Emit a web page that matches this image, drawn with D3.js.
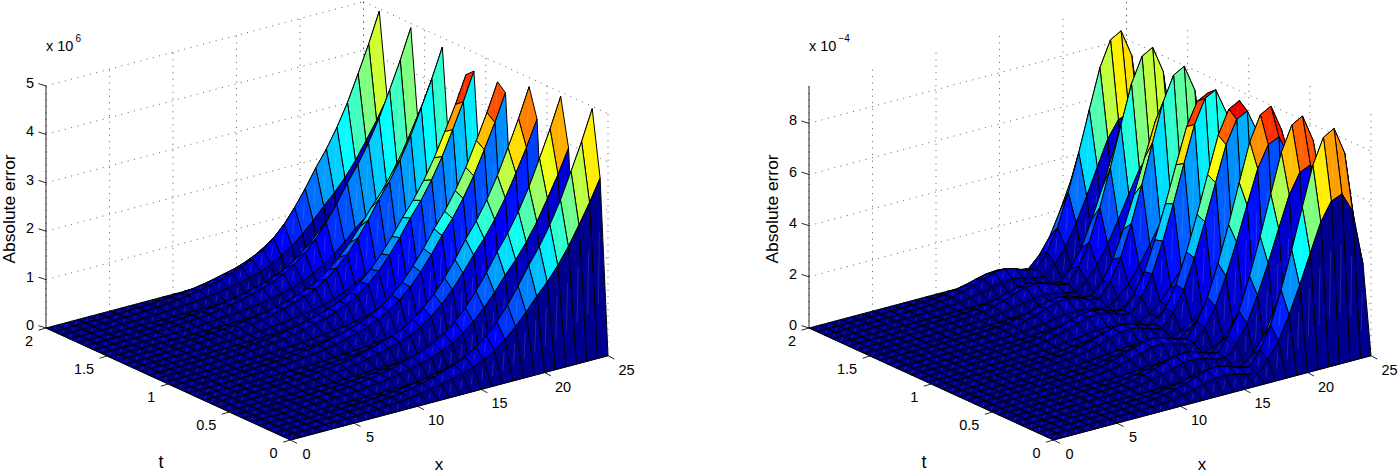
<!DOCTYPE html>
<html>
<head>
<meta charset="utf-8">
<script src="https://cdn.jsdelivr.net/npm/d3@7"></script>
<style>
html,body{margin:0;padding:0;background:#fff;}
svg{display:block;}
text{font-family:"Liberation Sans",Arial,sans-serif;fill:#000;}
</style>
</head>
<body>
<svg id="chart" width="1398" height="474"></svg>
<script>
// Tick labels
const xTicks = [0, 5, 10, 15, 20, 25];
const tTicks = [0, 0.5, 1, 1.5, 2];
const leftZTicks = [0, 1, 2, 3, 4, 5];
const rightZTicks = [0, 2, 4, 6, 8];

// Oscillation read along the ridges, one value per t grid line (t = 0 .. 2)
const tAmplitude = [0, .725, .999, .652, .10, .79, .99, .57, .20, .85, .97, .48, .30, .90, .93, .40,
  .40, .93, .90, .30, .48, .97, .85, .20, .57, .99, .79, .10, .652, .999, .725, 0];

// Height along x at a full ridge, one value per x grid line (x = 0 .. 25)
const leftEnvelope = [0, .002, .004, .006, .01, .017, .023, .031, .041, .056, .074, .099, .13, .169, .217, .279,
  .351, .424, .527, .661, .847, 1.074, 1.364, 1.694, 2.066, 2.397, 2.789, 3.244, 3.781, 4.339, 4.959];
const rightEnvelope = [0, .01, .012, .015, .02, .025, .03, .04, .05, .06, .08, .10, .16, .27, .39, .55,
  .69, .73, .63, .45, .37, .94, 1.80, 3.06, 4.51, 6.08, 7.61, 8.59, 8.83, 7.76, 4.71];

const gridX = d3.range(leftEnvelope.length).map(i => i * 25 / (leftEnvelope.length - 1));
const gridT = d3.range(tAmplitude.length).map(j => j * 2 / (tAmplitude.length - 1));

const panels = [
  {dx: 0, zMax: 5, zTicks: leftZTicks, env: leftEnvelope, exp: "6"},
  {dx: 763, zMax: 9.46, zTicks: rightZTicks, env: rightEnvelope, exp: "\u22124"}
];

// Planar projection of the box, expressed as scales
const sxX = d3.scaleLinear().domain([0, 25]).range([0, 317.5]);
const syX = d3.scaleLinear().domain([0, 25]).range([0, -84.3]);
const sxT = d3.scaleLinear().domain([0, 2]).range([0, -244.5]);
const syT = d3.scaleLinear().domain([0, 2]).range([0, -112]);
const boxHeight = 242;

const clamp01 = v => Math.max(0, Math.min(1, v));
function jet(c) {
  const u = (Math.min(63, Math.floor(c * 64)) + 1) / 64;
  const r = clamp01(Math.min(4 * u - 1.5, -4 * u + 4.5));
  const g = clamp01(Math.min(4 * u - 0.5, -4 * u + 3.5));
  const b = clamp01(Math.min(4 * u + 0.5, -4 * u + 2.5));
  return d3.rgb(r * 255, g * 255, b * 255).formatRgb();
}

const svg = d3.select("#chart");

panels.forEach(p => {
  const ox = 290.5 + p.dx, oy = 440;
  const zs = d3.scaleLinear().domain([0, p.zMax]).range([0, boxHeight]);
  const proj = (x, t, z) => [ox + sxX(x) + sxT(t), oy + syX(x) + syT(t) - zs(z)];
  const seg = d3.line();
  const g = svg.append("g");

  // table of heights
  const table = gridT.map((t, j) => gridX.map((x, i) => p.env[i] * tAmplitude[j]));
  const colorMax = d3.max(table, r => d3.max(r));
  const color = d3.scaleSequential(jet).domain([0, colorMax]);

  // back-wall grid
  const grid = g.append("g").attr("fill", "none").attr("stroke", "#333")
    .attr("stroke-width", 0.8).attr("stroke-dasharray", "1 5.5");
  const line3 = (a, b) => grid.append("path").attr("d", seg([proj(...a), proj(...b)]));
  p.zTicks.forEach(z => {
    line3([0, 2, z], [25, 2, z]);
    line3([25, 2, z], [25, 0, z]);
  });
  xTicks.forEach(x => line3([x, 2, 0], [x, 2, p.zMax]));
  tTicks.forEach(t => line3([25, t, 0], [25, t, p.zMax]));

  // axis lines
  const axes = g.append("g").attr("fill", "none").attr("stroke", "#111").attr("stroke-width", 0.9);
  const axis3 = (a, b) => axes.append("path").attr("d", seg([proj(...a), proj(...b)]));
  axis3([0, 2, 0], [0, 2, p.zMax]);
  axis3([0, 2, 0], [0, 0, 0]);
  axis3([0, 0, 0], [25, 0, 0]);

  // surface, far faces first
  const surf = g.append("g");
  for (let j = gridT.length - 2; j >= 0; j--) {
    for (let i = gridX.length - 2; i >= 0; i--) {
      const a = proj(gridX[i], gridT[j], table[j][i]);
      const b = proj(gridX[i + 1], gridT[j], table[j][i + 1]);
      const c = proj(gridX[i + 1], gridT[j + 1], table[j + 1][i + 1]);
      const d = proj(gridX[i], gridT[j + 1], table[j + 1][i]);
      const fill = color(table[j][i]);
      surf.append("path").attr("d", seg([a, b, c, d]) + "Z").attr("fill", fill);
      // faint seam along the diagonal of each face
      const m1 = [a[0] + (c[0] - a[0]) * 0.3, a[1] + (c[1] - a[1]) * 0.3];
      const m2 = [a[0] + (c[0] - a[0]) * 0.7, a[1] + (c[1] - a[1]) * 0.7];
      surf.append("path").attr("d", seg([m1, m2])).attr("fill", "none")
        .attr("stroke", "#fff").attr("stroke-opacity", 0.22).attr("stroke-width", 0.6);
      surf.append("path").attr("d", seg([a, b, c, d]) + "Z").attr("fill", "none")
        .attr("stroke", "#000").attr("stroke-width", 1).attr("stroke-linejoin", "round");
    }
  }

  // ticks
  const ticks = g.append("g").attr("fill", "none").attr("stroke", "#111").attr("stroke-width", 0.9);
  const tickLen = 7.5;
  p.zTicks.forEach(z => {
    const a = proj(0, 2, z);
    ticks.append("path").attr("d", seg([a, [a[0] - tickLen, a[1] - 2.4]]));
  });
  tTicks.forEach(t => {
    const a = proj(0, t, 0);
    ticks.append("path").attr("d", seg([a, [a[0] - tickLen, a[1] + 2.2]]));
  });
  xTicks.forEach(x => {
    const a = proj(x, 0, 0);
    ticks.append("path").attr("d", seg([a, [a[0] + 6.5, a[1] + 3.4]]));
  });

  // tick labels
  const label = (x, y, s, anchor, size) => g.append("text").attr("x", x).attr("y", y)
    .attr("text-anchor", anchor || "middle").attr("font-size", size || 14.5).text(s);
  p.zTicks.forEach(z => {
    const a = proj(0, 2, z);
    label(a[0] - 12, a[1] + 2, String(z), "end");
  });
  tTicks.forEach(t => {
    const a = proj(0, t, 0);
    label(a[0] - 17 - (t === 0.5 || t === 1.5 ? 6 : 0), a[1] + 18, String(t));
  });
  xTicks.forEach(x => {
    const a = proj(x, 0, 0);
    label(a[0] + 16 + (x >= 10 ? 2.5 : 0), a[1] + 19, String(x));
  });

  // axis titles
  label(161 + p.dx, 468, "t", "middle", 18);
  label(439 + p.dx, 470.3, "x", "middle", 17);
  g.append("text").attr("transform", `translate(${15 + p.dx},209) rotate(-90)`)
    .attr("text-anchor", "middle").attr("font-size", 17.4).text("Absolute error");

  // multiplier
  label(46 + p.dx, 51, "x 10", "start", 14.5);
  label(75.5 + p.dx, 42, p.exp, "start", 10);
});
</script>
</body>
</html>
